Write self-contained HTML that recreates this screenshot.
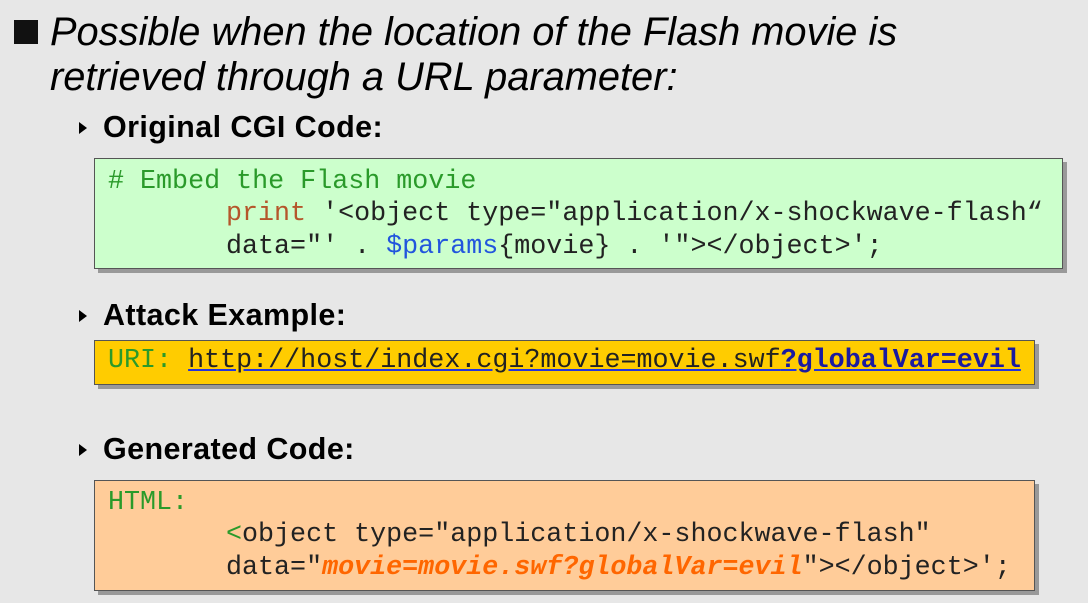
<!DOCTYPE html>
<html><head><style>
body{margin:0;width:1088px;height:603px;background:#e7e7e7;position:relative;overflow:hidden;font-family:"Liberation Sans",sans-serif}
.a{position:absolute;white-space:pre}
.t{font-style:italic;font-size:39.8px;color:#000}
.h{font-weight:bold;font-size:30.5px;color:#000;letter-spacing:0.4px}
.tri{position:absolute;width:0;height:0;border-top:6px solid transparent;border-bottom:6px solid transparent;border-left:8px solid #000}
.box{position:absolute;border:1.5px solid #555;box-shadow:4px 4px 0 #999}
.m{font-family:"Liberation Mono",monospace;font-size:26.7px;color:#222}
.g{color:#2a9a2a}.r{color:#b5562b}.b{color:#2255dd}
</style></head><body>
<div style="position:absolute;left:14px;top:20px;width:24px;height:24px;background:#111"></div>
<div class="a t" style="left:50px;top:10px">Possible when the location of the Flash movie is</div>
<div class="a t" style="left:50px;top:55px">retrieved through a URL parameter:</div>

<div class="tri" style="left:79px;top:122px"></div>
<div class="a h" style="left:103px;top:110px">Original CGI Code:</div>
<div class="box" style="left:94px;top:158px;width:967px;height:109px;background:#ccffcc"></div>
<div class="a m g" style="left:108px;top:167px"># Embed the Flash movie</div>
<div class="a m" style="left:226px;top:199px"><span class="r">print</span> '&lt;object type="application/x-shockwave-flash“</div>
<div class="a m" style="left:226px;top:232px">data="' . <span class="b">$params</span>{movie} . '"&gt;&lt;/object&gt;';</div>

<div class="tri" style="left:79px;top:310px"></div>
<div class="a h" style="left:103px;top:298px">Attack Example:</div>
<div class="box" style="left:94px;top:340px;width:939px;height:43px;background:#ffcc00"></div>
<div class="a m" style="left:108px;top:346px"><span class="g">URI: </span><span style="color:#222;text-decoration:underline;text-decoration-color:#2233dd">http://host/index.cgi?movie=movie.swf<b style="color:#1a1aa0">?globalVar=evil</b></span></div>

<div class="tri" style="left:79px;top:444px"></div>
<div class="a h" style="left:103px;top:432px">Generated Code:</div>
<div class="box" style="left:94px;top:480px;width:939px;height:109px;background:#ffcc99"></div>
<div class="a m g" style="left:108px;top:488px">HTML:</div>
<div class="a m" style="left:226px;top:520px"><span class="g">&lt;</span>object type="application/x-shockwave-flash"</div>
<div class="a m" style="left:226px;top:553px">data="<b style="color:#ff6600;font-style:italic">movie=movie.swf?globalVar=evil</b>"&gt;&lt;/object&gt;';</div>
</body></html>
